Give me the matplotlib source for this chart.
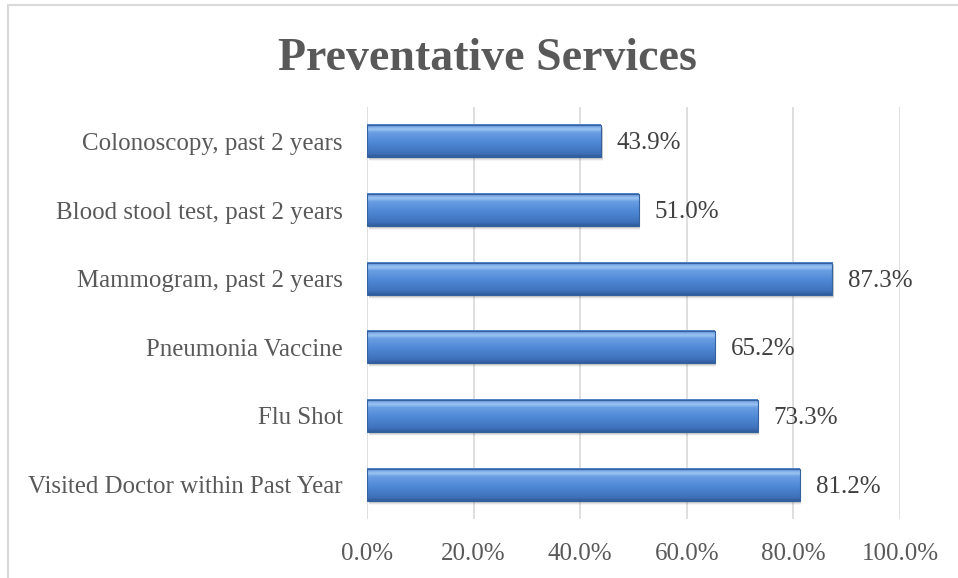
import numpy as np
import matplotlib
matplotlib.use("Agg")
import matplotlib.pyplot as plt
from matplotlib.colors import LinearSegmentedColormap
from matplotlib.patches import Rectangle

# data, top to bottom as shown
categories = ["Colonoscopy, past 2 years", "Blood stool test, past 2 years",
              "Mammogram, past 2 years", "Pneumonia Vaccine", "Flu Shot",
              "Visited Doctor within Past Year"]
values = [43.9, 51.0, 87.3, 65.2, 73.3, 81.2]
xticks = [0, 20, 40, 60, 80, 100]

serif = ["Liberation Serif", "DejaVu Serif"]
grey = "#595959"

fig = plt.figure(figsize=(9.58, 5.78), dpi=100)
ax = fig.add_axes([367 / 958, 1 - 519 / 578, 533 / 958, 412 / 578])

# chart border (only left/top visible in the original crop)
fig.patches.append(Rectangle((8 / 958, -0.1), 1.2, 1 - 5 / 578 + 0.1,
                             transform=fig.transFigure, fill=False,
                             edgecolor="#d9d9d9", linewidth=1.5))

# vertical gradient for the bevelled bars
bar_cmap = LinearSegmentedColormap.from_list(
    "bevel", [(0.0, "#2f5c9c"), (0.12, "#3f72bb"), (0.45, "#4f88d6"),
              (0.75, "#6a9fe3"), (0.85, "#9cc4f2"), (0.93, "#7aa8e6"),
              (1.0, "#4f80c6")])
grad = np.linspace(0, 1, 64).reshape(-1, 1)

h = 0.47
n = len(categories)
ypos = np.arange(n)[::-1]
for y, v in zip(ypos, values):
    # soft shadow
    for k, a in enumerate([0.10, 0.07, 0.04]):
        off = 0.025 + k * 0.015
        ax.add_patch(Rectangle((0.3, y - h / 2 - off), v, h, facecolor="black",
                               alpha=a, linewidth=0, zorder=2))
    ax.imshow(grad, cmap=bar_cmap, origin="lower", aspect="auto",
              extent=[0, v, y - h / 2, y + h / 2], zorder=3)
    ax.add_patch(Rectangle((0, y - h / 2), v, h, fill=False,
                           edgecolor="#35619f", linewidth=0.8, zorder=4))
    ax.text(v + 3.0, y - 0.03, f"{v:.1f}%", va="center", ha="left",
            fontsize=18, family=serif, color="#404040", zorder=5)

ax.set_xlim(0, 100)
ax.set_ylim(-0.5, n - 0.5)
ax.set_xticks(xticks)
ax.set_xticklabels([f"{t:.1f}%" for t in xticks], family=serif,
                   fontsize=18, color=grey)
ax.set_yticks(ypos)
ax.set_yticklabels(categories, family=serif, fontsize=17.9, color=grey)
ax.tick_params(axis="both", length=0)
ax.tick_params(axis="x", pad=17)
ax.tick_params(axis="y", pad=17.3)
ax.grid(axis="x", color="#d9d9d9", linewidth=1.2, zorder=0)
ax.set_axisbelow(True)
for s in ax.spines.values():
    s.set_visible(False)

fig.text(487 / 958, 1 - 59 / 578, "Preventative Services", ha="center",
         va="center", fontsize=33, fontweight="bold", family=serif, color=grey)

fig.savefig("out.png", dpi=100)
